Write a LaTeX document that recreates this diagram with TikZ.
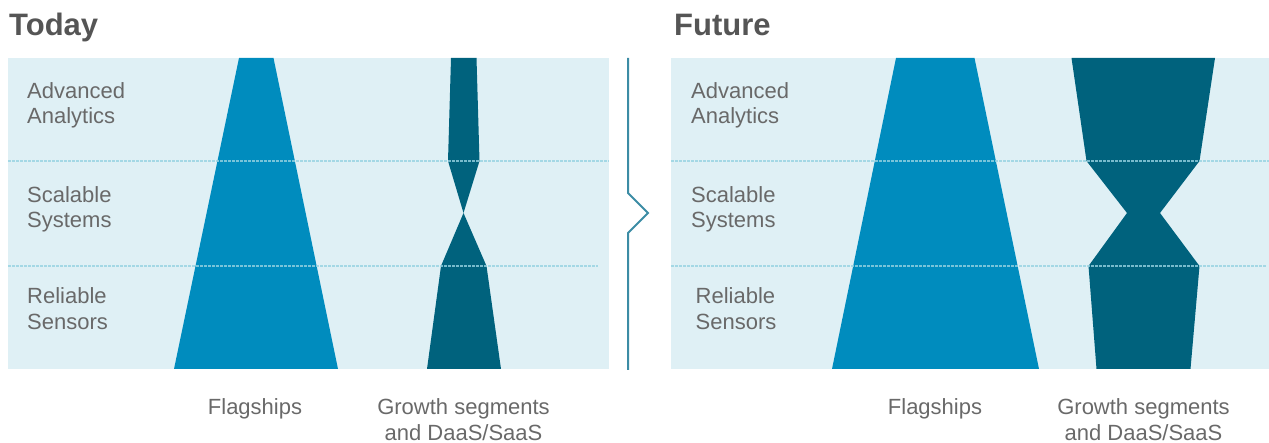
\documentclass[tikz,border=0pt]{standalone}
\usepackage{fontspec}
\setmainfont{Liberation Sans}
\begin{document}
\definecolor{panelbg}{RGB}{223,240,245}
\definecolor{flagblue}{RGB}{0,140,190}
\definecolor{growthblue}{RGB}{0,98,125}
\definecolor{divider}{RGB}{60,140,165}
\definecolor{gridline}{RGB}{150,210,225}
\definecolor{titlegray}{RGB}{85,85,85}
\definecolor{labelgray}{RGB}{105,105,105}
\begin{tikzpicture}[x=1pt,y=-1pt,
  panel/.style={fill=panelbg,draw=none},
  flagship/.style={fill=flagblue,draw=none},
  growth/.style={fill=growthblue,draw=none},
  rowline/.style={draw=gridline,line width=2pt,dash pattern=on 2.5pt off 1.5pt,opacity=0.8},
  title/.style={inner sep=0pt,anchor=base west,text=titlegray,font=\fontsize{31}{36}\selectfont\bfseries},
  rowlabel/.style={inner sep=0pt,anchor=base west,text=labelgray,font=\fontsize{22}{26}\selectfont},
  collabel/.style={inner sep=0pt,anchor=base,text=labelgray,font=\fontsize{22}{26}\selectfont}]
\useasboundingbox (0,0) rectangle (1269,443);

% titles
\node[title] (ttoday) at (9,36) {Today};
\node[title] (tfuture) at (674,36) {Future};

% background panels
\fill[panel] (8,58) rectangle (609,369);
\fill[panel] (671,58) rectangle (1269,369);

% today: flagships and growth segments
\fill[flagship] (239,58) -- (273.5,58) -- (338,369) -- (174,369) -- cycle;
\fill[growth] (451,58) -- (476.5,58) -- (479.5,161) -- (463.5,213) -- (486.5,266)
  -- (501,369) -- (427,369) -- (441,266) -- (463.5,213) -- (448,161) -- cycle;

% future: flagships and growth segments
\fill[flagship] (896,58) -- (974.5,58) -- (1039,369) -- (832,369) -- cycle;
\fill[growth] (1071.5,58) -- (1215,58) -- (1199.5,161) -- (1160,213) -- (1199.5,266)
  -- (1190.5,369) -- (1096.5,369) -- (1088.5,266) -- (1127,213) -- (1086.5,161) -- cycle;

% row separators
\draw[rowline] (8,161) -- (609,161);
\draw[rowline] (8,266) -- (598,266);
\draw[rowline] (671,161) -- (1269,161);
\draw[rowline] (671,266) -- (1266,266);

% divider with arrow notch
\draw[divider,line width=2pt,line join=miter] (628,58) -- (628,193) -- (648,213) -- (628,233) -- (628,370);

% row labels, today
\node[rowlabel] (ta1) at (27,98.3) {Advanced};
\node[rowlabel] (ta2) at (27,124) {Analytics};
\node[rowlabel] (ts1) at (27,202.3) {Scalable};
\node[rowlabel] (ts2) at (27,227.7) {Systems};
\node[rowlabel] (tr1) at (27,304) {Reliable};
\node[rowlabel] (tr2) at (27,329.5) {Sensors};

% row labels, future
\node[rowlabel] (fa1) at (691,98.3) {Advanced};
\node[rowlabel] (fa2) at (691,124) {Analytics};
\node[rowlabel] (fs1) at (691,202.3) {Scalable};
\node[rowlabel] (fs2) at (691,227.7) {Systems};
\node[rowlabel] (fr1) at (695.5,304) {Reliable};
\node[rowlabel] (fr2) at (695.5,329.5) {Sensors};

% column labels
\node[collabel] (tflag) at (255,414.3) {Flagships};
\node[collabel] (tgrow1) at (463.5,414.3) {Growth segments};
\node[collabel] (tgrow2) at (463.5,440) {and DaaS/SaaS};
\node[collabel] (fflag) at (935,414.3) {Flagships};
\node[collabel] (fgrow1) at (1143.5,414.3) {Growth segments};
\node[collabel] (fgrow2) at (1143.5,440) {and DaaS/SaaS};
\end{tikzpicture}
\end{document}
